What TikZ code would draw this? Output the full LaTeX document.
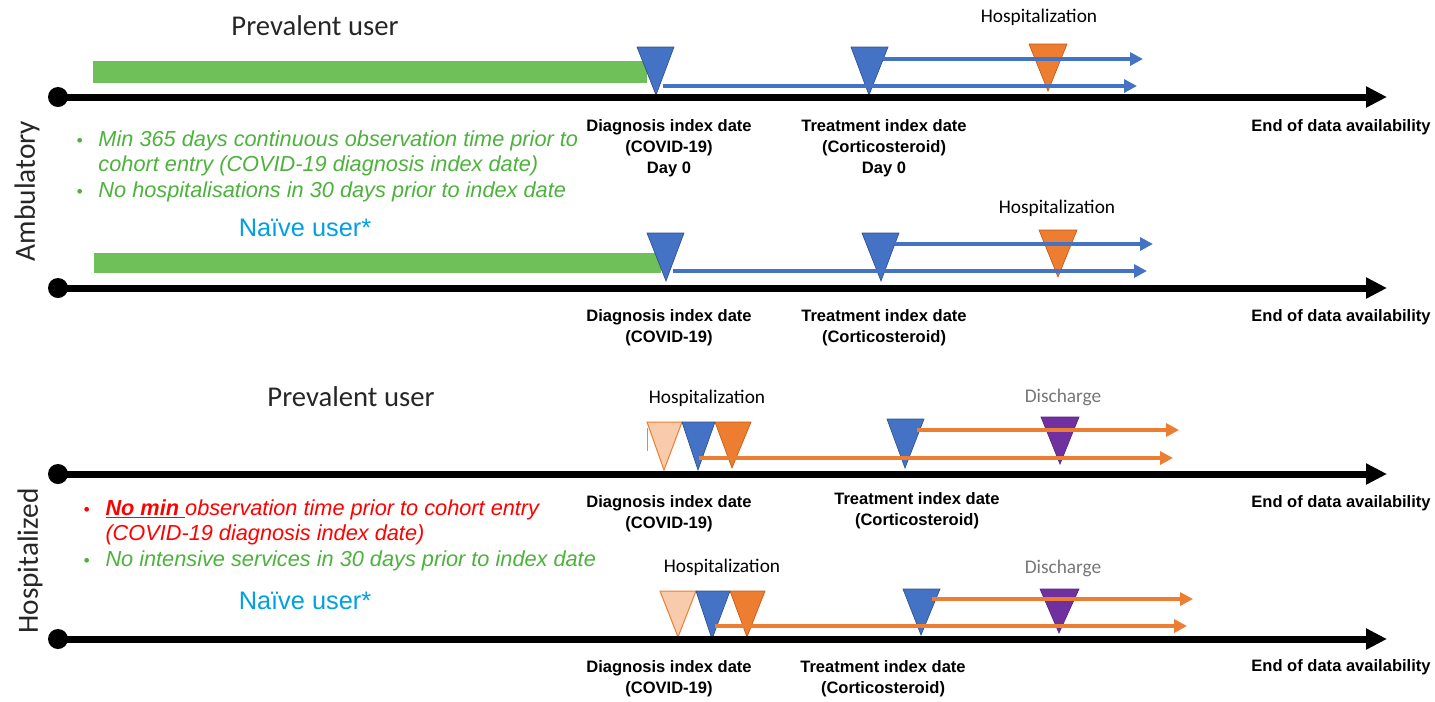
\documentclass[tikz,border=0pt]{standalone}
\usepackage{fontspec}
\setmainfont{Liberation Sans}
\newfontfamily\calibri{Carlito}
\usetikzlibrary{arrows.meta}

\definecolor{barGreen}{RGB}{112,192,90}
\definecolor{critGreen}{RGB}{76,178,60}
\definecolor{idxBlue}{RGB}{68,114,196}
\definecolor{idxBlueEdge}{RGB}{47,82,143}
\definecolor{hospOrange}{RGB}{237,125,49}
\definecolor{hospEdge}{RGB}{197,90,17}
\definecolor{hospPeach}{RGB}{248,203,173}
\definecolor{dischPurple}{RGB}{112,48,160}
\definecolor{naiveCyan}{RGB}{0,160,226}
\definecolor{dischGrey}{RGB}{118,118,118}

\tikzset{every picture/.style={line width=0.75pt}}
\tikzset{
  timeline/.style={line width=5.25pt,-{Triangle[length=15.75pt,width=15pt]}},
  startdot/.style={circle,fill=black,inner sep=0pt,minimum size=15pt},
  obsbar/.style={fill=barGreen,draw=none},
  bluetri/.style={fill=idxBlue,draw=idxBlueEdge,line width=0.5pt},
  orangetri/.style={fill=hospOrange,draw=hospEdge,line width=0.5pt},
  peachtri/.style={fill=hospPeach,draw=hospOrange,line width=0.75pt},
  purpletri/.style={fill=dischPurple,draw=dischPurple!80!black,line width=0.5pt},
  bluefollow/.style={idxBlue,line width=3pt,-{Triangle[length=9.75pt,width=9.75pt]}},
  orangefollow/.style={hospOrange,line width=3pt,-{Triangle[length=9.75pt,width=9.75pt]}},
  datelabel/.style={font=\fontsize{12.4}{15.75}\selectfont\bfseries,align=center,inner sep=0pt},
  eventlabel/.style={font=\calibri\fontsize{14.5}{17}\selectfont,inner sep=0pt},
  cohortlabel/.style={font=\calibri\fontsize{21.5}{25}\selectfont,text=black!85,inner sep=0pt},
  naivelabel/.style={font=\fontsize{19}{22}\selectfont,text=naiveCyan,inner sep=0pt},
  critlabel/.style={font=\fontsize{16.3}{19.1}\selectfont\itshape,align=left,inner sep=0pt,anchor=north west},
  settinglabel/.style={font=\calibri\fontsize{22}{25}\selectfont,text=black!85,rotate=90,inner sep=0pt},
}
\newcommand{\critdot}{\makebox[16.5pt][l]{\fontsize{13}{13}\selectfont\textbullet}}

\begin{document}
\begin{tikzpicture}[x=0.75pt,y=0.75pt,yscale=-1,xscale=1]
\path[use as bounding box] (0,0) rectangle (1435,701);

% ---------- Ambulatory, prevalent user ----------
% Observation bar
\fill[obsbar] (93,61) rectangle (647,83);
% Shape: Triangle
\draw[bluetri] (637,47) -- (674,47) -- (656,95) -- cycle;
\draw[bluetri] (851,47) -- (888,47) -- (869,95) -- cycle;
\draw[orangetri] (1029,44) -- (1067,44) -- (1048,91) -- cycle;
% Timeline
\node[startdot] (t1) at (58,97) {};
\coordinate (t1end) at (1387,97);
\draw[timeline] (t1.center) -- (t1end);
% Connection
\coordinate (f1a) at (663,86);  \coordinate (f1b) at (1137,86);
\coordinate (f1c) at (883,59);  \coordinate (f1d) at (1143,59);
\draw[bluefollow] (f1a) -- (f1b);
\draw[bluefollow] (f1c) -- (f1d);
% Text Node
\node[cohortlabel] (prev1) at (315,26) {Prevalent user};
\node[eventlabel] (hosp1) at (1039,17) {Hospitalization};
\node[datelabel] (diag1) at (669,148) {Diagnosis index date\\(COVID-19)\\Day 0};
\node[datelabel] (treat1) at (884,148) {Treatment index date\\(Corticosteroid)\\Day 0};
\node[datelabel] (end1) at (1341,127) {End of data availability};
\node[critlabel,text=critGreen] (crit1) at (76,128) {\begin{tabular}{@{}l@{}l@{}}
\critdot & Min 365 days continuous observation time prior to\\
 & cohort entry (COVID-19 diagnosis index date)\\
\critdot & No hospitalisations in 30 days prior to index date
\end{tabular}};
\node[settinglabel] (amb) at (27,191) {Ambulatory};

% ---------- Ambulatory, naive user ----------
\fill[obsbar] (94,253) rectangle (661,273);
\draw[bluetri] (647,233) -- (684,233) -- (666,281) -- cycle;
\draw[bluetri] (862,233) -- (899,233) -- (881,281) -- cycle;
\draw[orangetri] (1039,230) -- (1077,230) -- (1058,277) -- cycle;
\node[startdot] (t2) at (58,288) {};
\coordinate (t2end) at (1387,288);
\draw[timeline] (t2.center) -- (t2end);
\coordinate (f2a) at (673,271); \coordinate (f2b) at (1147,271);
\coordinate (f2c) at (895,244); \coordinate (f2d) at (1153,244);
\draw[bluefollow] (f2a) -- (f2b);
\draw[bluefollow] (f2c) -- (f2d);
\node[naivelabel] (naive2) at (305,228) {Naïve user*};
\node[eventlabel] (hosp2) at (1057,208) {Hospitalization};
\node[datelabel] (diag2) at (669,327.5) {Diagnosis index date\\(COVID-19)};
\node[datelabel] (treat2) at (884,327.5) {Treatment index date\\(Corticosteroid)};
\node[datelabel] (end2) at (1341,317) {End of data availability};

% ---------- Hospitalized, prevalent user ----------
\draw[barGreen,line width=0.75pt] (647,428) -- (647,451);
\draw[peachtri] (647,422) -- (682,422) -- (664,470) -- cycle;
\draw[bluetri] (682,422) -- (715,422) -- (698,470) -- cycle;
\draw[orangetri] (715,422) -- (751,422) -- (732,468) -- cycle;
\draw[bluetri] (887,419) -- (924,419) -- (905,468) -- cycle;
\draw[purpletri] (1041,417) -- (1079,417) -- (1060,464) -- cycle;
\node[startdot] (t3) at (58,474) {};
\coordinate (t3end) at (1387,474);
\draw[timeline] (t3.center) -- (t3end);
\coordinate (f3a) at (699,458); \coordinate (f3b) at (1173,458);
\coordinate (f3c) at (917,430); \coordinate (f3d) at (1179,430);
\draw[orangefollow] (f3a) -- (f3b);
\draw[orangefollow] (f3c) -- (f3d);
\node[cohortlabel] (prev3) at (351,397) {Prevalent user};
\node[eventlabel] (hosp3) at (707,398) {Hospitalization};
\node[eventlabel,text=dischGrey] (disch3) at (1063,397) {Discharge};
\node[datelabel] (diag3) at (669,513.5) {Diagnosis index date\\(COVID-19)};
\node[datelabel] (treat3) at (917,510.5) {Treatment index date\\(Corticosteroid)};
\node[datelabel] (end3) at (1341,503) {End of data availability};
\node[critlabel] (crit3) at (83,497) {\begin{tabular}{@{}l@{}l@{}}
\color{red}\critdot & \color{red}\underline{\textbf{No min }}observation time prior to cohort entry\\
 & \color{red}(COVID-19 diagnosis index date)\\
\color{critGreen}\critdot & \color{critGreen}No intensive services in 30 days prior to index date
\end{tabular}};
\node[settinglabel] (hosp) at (30,561) {Hospitalized};

% ---------- Hospitalized, naive user ----------
\draw[peachtri] (660,591) -- (696,591) -- (678,637) -- cycle;
\draw[bluetri] (696,591) -- (730,591) -- (712,639) -- cycle;
\draw[orangetri] (730,591) -- (765,591) -- (747,637) -- cycle;
\draw[bluetri] (903,589) -- (940,589) -- (921,635) -- cycle;
\draw[purpletri] (1040,589) -- (1079,589) -- (1059,633) -- cycle;
\node[startdot] (t4) at (58,639) {};
\coordinate (t4end) at (1387,639);
\draw[timeline] (t4.center) -- (t4end);
\coordinate (f4a) at (715,626); \coordinate (f4b) at (1187,626);
\coordinate (f4c) at (932,599); \coordinate (f4d) at (1193,599);
\draw[orangefollow] (f4a) -- (f4b);
\draw[orangefollow] (f4c) -- (f4d);
\node[naivelabel] (naive4) at (305,601) {Naïve user*};
\node[eventlabel] (hosp4) at (722,567) {Hospitalization};
\node[eventlabel,text=dischGrey] (disch4) at (1063,568) {Discharge};
\node[datelabel] (diag4) at (669,678.5) {Diagnosis index date\\(COVID-19)};
\node[datelabel] (treat4) at (883,678.5) {Treatment index date\\(Corticosteroid)};
\node[datelabel] (end4) at (1341,667) {End of data availability};

\end{tikzpicture}
\end{document}
